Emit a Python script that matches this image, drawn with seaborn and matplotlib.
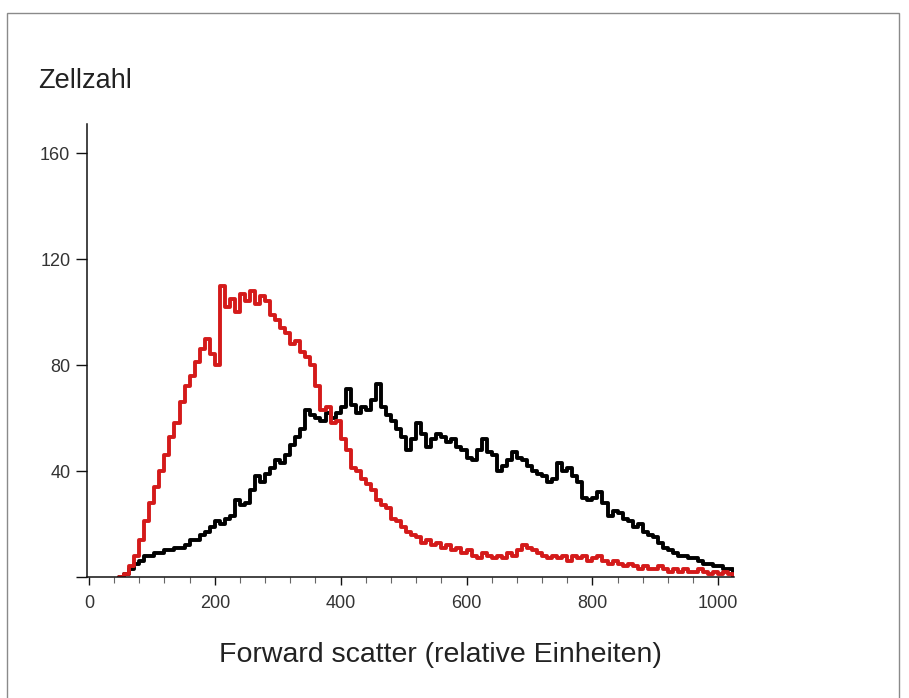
import numpy as np
import pandas as pd
import seaborn as sns
import matplotlib
matplotlib.use('Agg')
import matplotlib.pyplot as plt
from matplotlib.ticker import MultipleLocator
from matplotlib.patches import Rectangle

# channel positions (relative units), one value per 8 channels
CHANNELS = list(range(48, 1024, 8))

# red histogram
RED_COUNTS = [
    0, 1, 4, 8, 14, 21, 28, 34, 40, 46, 53, 58, 66, 72, 76, 81, 86, 90, 84, 80,
    110, 102, 105, 100, 107, 104, 108, 103, 106, 104, 99, 97, 94, 92, 88, 89, 85, 83, 80, 72,
    63, 64, 58, 59, 52, 48, 41, 40, 37, 35, 33, 29, 27, 26, 22, 21, 19, 17, 16, 15,
    13, 14, 12, 13, 11, 12, 10, 11, 9, 10, 8, 7, 9, 8, 7, 8, 7, 9, 8, 10,
    12, 11, 10, 9, 8, 7, 8, 7, 8, 6, 8, 7, 8, 6, 7, 8, 6, 5, 6, 5,
    4, 5, 4, 3, 4, 3, 3, 4, 3, 2, 3, 2, 3, 2, 2, 3, 2, 1, 2, 1,
    2, 1,
]

# black histogram
BLACK_COUNTS = [
    0, 1, 3, 5, 6, 8, 8, 9, 9, 10, 10, 11, 11, 12, 14, 14, 16, 17, 19, 21,
    20, 22, 23, 29, 27, 28, 33, 38, 36, 39, 41, 44, 43, 46, 50, 53, 56, 63, 61, 60,
    59, 62, 60, 62, 64, 71, 65, 62, 64, 63, 67, 73, 64, 61, 59, 56, 53, 48, 52, 58,
    54, 49, 52, 54, 53, 51, 52, 49, 48, 45, 44, 48, 52, 47, 46, 40, 42, 44, 47, 45,
    44, 42, 40, 39, 38, 36, 37, 43, 40, 41, 38, 36, 30, 29, 30, 32, 28, 23, 25, 24,
    22, 21, 19, 20, 17, 16, 15, 13, 11, 10, 9, 8, 8, 7, 7, 6, 5, 5, 4, 4,
    3, 3,
]

X_TICKS = [0, 200, 400, 600, 800, 1000]
Y_TICKS = [0, 40, 80, 120, 160]
Y_TICK_LABELS = ["", "40", "80", "120", "160"]

sns.set_style("ticks")
plt.rcParams['font.family'] = ['Liberation Sans', 'DejaVu Sans']

fig = plt.figure(figsize=(9.09, 6.98), dpi=100)
ax = fig.add_axes([0.0957, 0.1734, 0.7118, 0.6489])

for counts, color in [(BLACK_COUNTS, "#000000"), (RED_COUNTS, "#d41a1a")]:
    df = pd.DataFrame({"channel": CHANNELS + [1024], "count": counts + [0]})
    sns.lineplot(x="channel", y="count", data=df, ax=ax, color=color,
                 linewidth=2.8, drawstyle="steps-post", sort=False, estimator=None)

ax.set_xlim(-3, 1025)
ax.set_ylim(0, 171)
ax.set_xticks(X_TICKS)
ax.set_yticks(Y_TICKS)
ax.set_yticklabels(Y_TICK_LABELS)
ax.xaxis.set_minor_locator(MultipleLocator(40))
ax.set_xlabel("")
ax.set_ylabel("")
sns.despine(ax=ax)
for side in ["left", "bottom"]:
    ax.spines[side].set_linewidth(1.1)
    ax.spines[side].set_color("#111111")
ax.tick_params(axis="both", which="major", labelsize=13, length=6, width=1.0,
               colors="#111111", labelcolor="#333333")
ax.tick_params(axis="x", which="major", pad=7)
ax.tick_params(axis="y", which="major", pad=4, length=8)
ax.tick_params(axis="x", which="minor", length=4, width=0.8, colors="#666666")

fig.text(0.0418, 0.874, "Zellzahl", fontsize=19.5, color="#222222",
         ha="left", va="baseline")
fig.text(0.484, 0.0516, "Forward scatter (relative Einheiten)", fontsize=20.5,
         color="#222222", ha="center", va="baseline")

# thin frame round the picture
fig.patches.append(Rectangle((7 / 909, -0.05), 892 / 909, 1.05 - 13 / 698,
                             transform=fig.transFigure, fill=False,
                             edgecolor="#8a8a8a", linewidth=1.0))

fig.savefig("out.png", dpi=100)
plt.close(fig)
